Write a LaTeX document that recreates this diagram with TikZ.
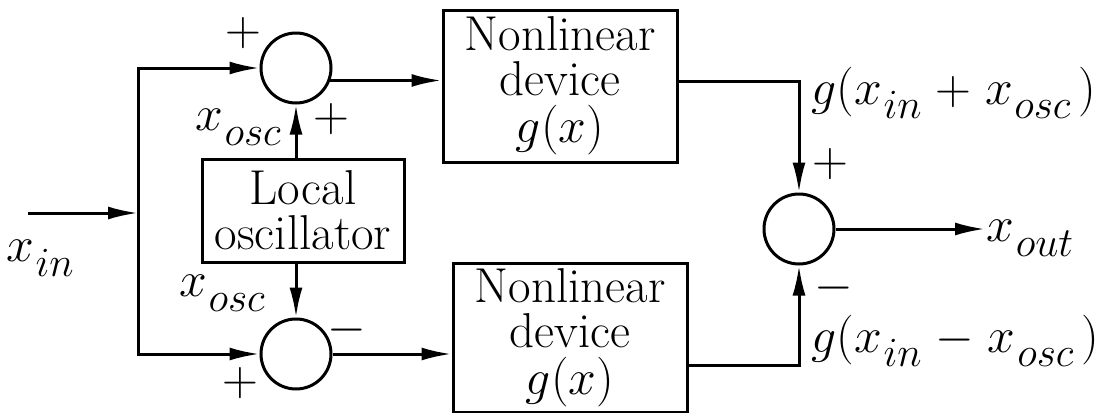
\documentclass[tikz,border=0pt]{standalone}
\usetikzlibrary{arrows.meta, calc, positioning}

% italic letter with italic subscript
\newcommand{\vsub}[2]{$#1$\kern0.8pt\raisebox{-0.3em}{\fontsize{21}{23}\selectfont$#2$}}

\begin{document}
\begin{tikzpicture}[
            x=0.5pt, y=-0.5pt,
            line width=1.5pt,
            font=\fontsize{24.5}{22.5}\selectfont,
            >={Latex[length=15pt,width=6.5pt]},
            sumnode/.style={draw, circle, minimum size=35pt, inner sep=0pt},
            blockbox/.style={draw, rectangle, align=center, inner sep=0pt},
            lbl/.style={inner sep=0pt}
          ]
            \useasboundingbox (0,0) rectangle (1100,413);

            % summing points
            \node[sumnode] (sumtop) at (296,68) {};
            \node[sumnode] (sumbot) at (296,354) {};
            \node[sumnode] (sumout) at (799,229) {};

            % blocks
            \node[blockbox, minimum width=117pt, minimum height=76pt] (nltop) at (560,86)
              {Nonlinear\\device\\[1pt]$g(x)$};
            \node[blockbox, minimum width=117pt, minimum height=74.5pt] (nlbot) at (570,337.5)
              {Nonlinear\\device\\[1pt]$g(x)$};
            \node[blockbox, minimum width=101pt, minimum height=51.5pt] (osc) at (303,210.5)
              {Local\\oscillator};

            % input and split
            \coordinate (start) at (28,213);
            \coordinate (split) at (138,213);
            \node[lbl] (xin) at (40,258) {\vsub{x}{in}};
            \draw[->] (start) -- (split);
            \draw[->] (split) |- (sumtop.west);
            \draw[->] (split) |- (sumbot.west);

            % oscillator
            \draw[->] (sumtop |- osc.north) -- (sumtop.south);
            \draw[->] (sumbot |- osc.south) -- (sumbot.north);

            % into the devices
            \draw[->] (sumtop.-20) -- (sumtop.-20 -| nltop.west);
            \draw[->] (sumbot.east) -- (sumbot.east -| nlbot.west);

            % into the output summer
            \draw[->] ($(nltop.east)+(0,-5)$) -| (sumout.north);
            \draw[->] ($(nlbot.east)+(0,27.5)$) -| (sumout.south);

            % output
            \node[lbl, anchor=west] (xout) at (985,238) {\vsub{x}{out}};
            \draw[->] (sumout.east) -- (sumout.east -| xout.west);

            % signs and signal labels
            \node[lbl] (ptop) at (243,33) {$+$};
            \node[lbl] (posc) at (331,119) {$+$};
            \node[lbl] (pbot) at (240,383) {$+$};
            \node[lbl] (mbot) at (347,330) {$-$};
            \node[lbl] (pout) at (830,164) {$+$};
            \node[lbl] (mout) at (834,288) {$-$};
            \node[lbl] (xosctop) at (238,127) {\vsub{x}{osc}};
            \node[lbl] (xoscbot) at (222,293) {\vsub{x}{osc}};
            \node[lbl, anchor=west] (gplus) at (810,93)
              {$g($\vsub{x}{in}$\;+\;$\vsub{x}{osc}$\,)$};
            \node[lbl, anchor=west] (gminus) at (810,341)
              {$g($\vsub{x}{in}$\;-\;$\vsub{x}{osc}$\,)$};
          \end{tikzpicture}
\end{document}
